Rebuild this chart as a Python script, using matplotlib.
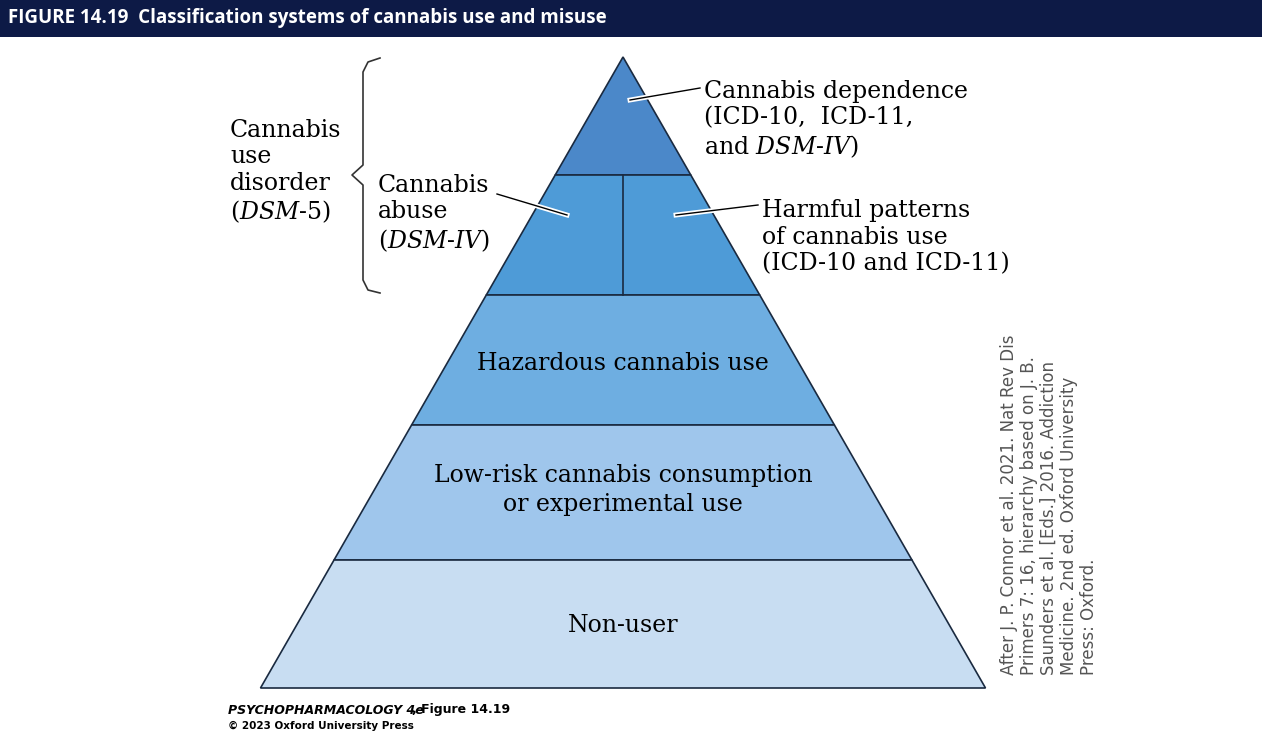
import matplotlib.pyplot as plt
from matplotlib.patches import Polygon

plt.rcParams['mathtext.fontset'] = 'dejavuserif'

# pyramid geometry (pixel space of the original figure)
apex = (623, 57)
base_y = 688
base_half = 362.5
levels = [57, 175, 295, 425, 560, 688]
colors = ['#4b88c9', '#4e9bd7', '#6eaee1', '#9fc6ec', '#c8ddf2']
edge = '#1a2a40'

def half_width(y):
    return base_half * (y - apex[1]) / (base_y - apex[1])

fig = plt.figure(figsize=(12.62, 7.42), dpi=100)
ax = fig.add_axes([0, 0, 1, 1])
ax.set_xlim(0, 1262)
ax.set_ylim(742, 0)
ax.axis('off')

for i, c in enumerate(colors):
    y0, y1 = levels[i], levels[i + 1]
    w0, w1 = half_width(y0), half_width(y1)
    pts = [(apex[0] - w0, y0), (apex[0] + w0, y0), (apex[0] + w1, y1), (apex[0] - w1, y1)]
    ax.add_patch(Polygon(pts, closed=True, facecolor=c, edgecolor=edge, lw=1.2))
ax.plot([623, 623], [levels[1], levels[2]], color=edge, lw=1.2)

serif = 'DejaVu Serif'
fs = 17
ax.text(623, 364, 'Hazardous cannabis use', ha='center', va='center', fontsize=fs, family=serif)
ax.text(623, 490, 'Low-risk cannabis consumption\nor experimental use', ha='center', va='center',
        fontsize=fs, family=serif, linespacing=1.3)
ax.text(623, 625, 'Non-user', ha='center', va='center', fontsize=fs, family=serif)

ax.text(704, 120, 'Cannabis dependence\n(ICD-10,  ICD-11,\nand $\\it{DSM}$-$\\it{IV}$)', ha='left', va='center',
        fontsize=fs, family=serif, linespacing=1.2)
ax.plot([630, 700], [100, 88], color='white', lw=3.5)
ax.plot([630, 700], [100, 88], color='black', lw=1)

ax.text(762, 237, 'Harmful patterns\nof cannabis use\n(ICD-10 and ICD-11)', ha='left', va='center',
        fontsize=fs, family=serif, linespacing=1.2)
ax.plot([676, 758], [215, 205], color='white', lw=3.5)
ax.plot([676, 758], [215, 205], color='black', lw=1)

ax.text(378, 214, 'Cannabis\nabuse\n($\\it{DSM}$-$\\it{IV}$)', ha='left', va='center',
        fontsize=fs, family=serif, linespacing=1.2)
ax.plot([497, 567], [194, 215], color='white', lw=3.5)
ax.plot([497, 567], [194, 215], color='black', lw=1)

ax.text(230, 172, 'Cannabis\nuse\ndisorder\n($\\it{DSM}$-$\\it{5}$)', ha='left', va='center',
        fontsize=fs, family=serif, linespacing=1.2)
# curly brace
bx = [380, 368, 363, 363, 352, 363, 363, 368, 380]
by = [58, 62, 72, 165, 175, 185, 280, 290, 293]
ax.plot(bx, by, color='#333333', lw=1.2)

# header
ax.add_patch(Polygon([(0, 0), (1262, 0), (1262, 37), (0, 37)], closed=True, facecolor='#0d1a46', edgecolor='none'))
ax.text(8, 18, 'FIGURE 14.19  Classification systems of cannabis use and misuse', color='white',
        fontsize=13.5, fontweight='bold', family='Open Sans', va='center', ha='left')

ax.text(1000, 505, 'After J. P. Connor et al. 2021. Nat Rev Dis\nPrimers 7: 16, hierarchy based on J. B.\n'
        'Saunders et al. [Eds.] 2016. Addiction\nMedicine. 2nd ed. Oxford University\nPress: Oxford.',
        rotation=90, ha='left', va='center', fontsize=12, color='#555555', family='DejaVu Sans', linespacing=1.15)

ax.text(228, 710, 'PSYCHOPHARMACOLOGY 4e', fontsize=9, fontweight='bold', style='italic', va='center')
ax.text(412, 710, ', Figure 14.19', fontsize=9, fontweight='bold', va='center')
ax.text(228, 726, '© 2023 Oxford University Press', fontsize=7.5, fontweight='bold', va='center')

fig.savefig('out.png', dpi=100)
